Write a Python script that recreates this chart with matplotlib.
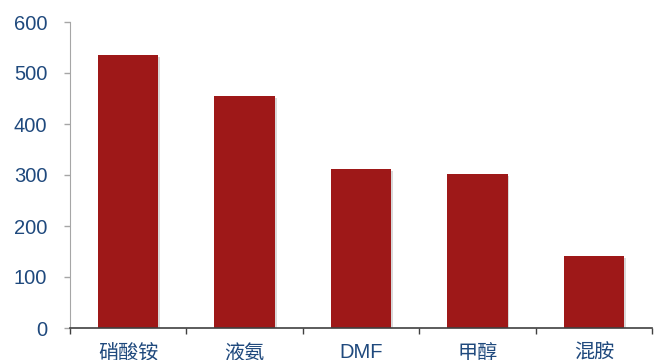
import matplotlib.pyplot as plt
import matplotlib.patheffects as pe
from matplotlib.ticker import FixedLocator, NullFormatter

plt.rcParams['font.family'] = ['Liberation Sans', 'Noto Sans CJK SC', 'DejaVu Sans']

# ── Data ─────────────────────────────────────────────────────────────────────
categories = ["硝酸铵", "液氨", "DMF", "甲醇", "混胺"]
values = [535, 455, 312, 302, 141]
yticks = [0, 100, 200, 300, 400, 500, 600]

BAR_COLOR = "#9e1818"
TEXT_COLOR = "#1f497d"

# ── Plot ─────────────────────────────────────────────────────────────────────
fig = plt.figure(figsize=(6.54, 3.6), dpi=100)
ax = fig.add_axes([70 / 654, 1 - 328 / 360, 582 / 654, 306 / 360])

x = list(range(len(categories)))
bars = ax.bar(x, values, width=0.52, color=BAR_COLOR, zorder=3)
for b in bars:
    b.set_path_effects([pe.SimplePatchShadow(offset=(1.2, -1.2), shadow_rgbFace="#000000", alpha=0.15),
                        pe.Normal()])

ax.set_xlim(-0.5, len(categories) - 0.5)
ax.set_ylim(0, 600)
ax.set_yticks(yticks)
ax.set_xticks(x)
ax.set_xticklabels(categories)

# category boundary ticks on the x axis
ax.xaxis.set_minor_locator(FixedLocator([i - 0.5 for i in range(len(categories) + 1)]))
ax.xaxis.set_minor_formatter(NullFormatter())
ax.tick_params(axis='x', which='major', length=0, pad=10.5, labelsize=14.5, labelcolor=TEXT_COLOR)
ax.tick_params(axis='x', which='minor', length=4.5, width=1, color="#404040", direction='out')
ax.tick_params(axis='y', length=4.3, width=1, color="#a6a6a6", pad=12,
               labelsize=14.5, labelcolor=TEXT_COLOR)

for lab in ax.get_xticklabels():
    if lab.get_text() == "DMF":
        lab.set_family(['Liberation Sans'])
    else:
        lab.set_family(['Noto Sans CJK SC', 'Liberation Sans'])
        lab.set_fontweight('light')

for side in ("top", "right"):
    ax.spines[side].set_visible(False)
ax.spines['left'].set_color("#a6a6a6")
ax.spines['bottom'].set_color("#404040")
ax.spines['bottom'].set_linewidth(1.2)
ax.spines['bottom'].set_zorder(4)

fig.savefig("out.png", dpi=100)
